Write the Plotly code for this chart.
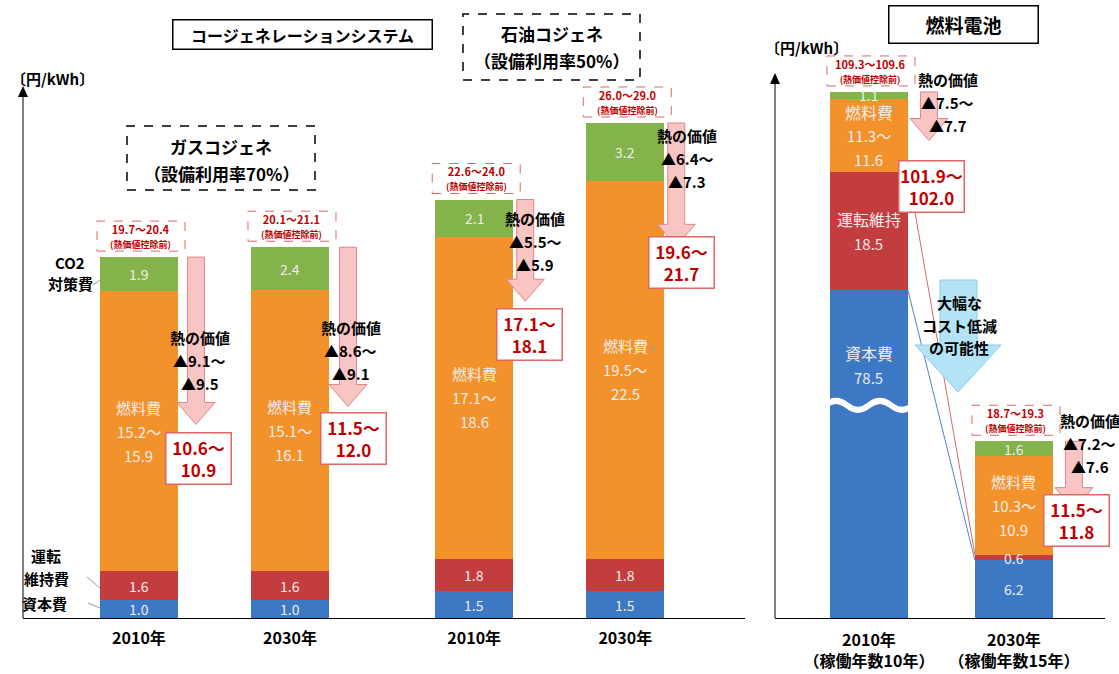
import plotly.graph_objects as go

W, H = 1119, 674
def px(x): return x / W
def py(y): return 1 - y / H

# ---------------- data: cogeneration (left panel) ----------------
cg_labels = ["2010年", "2030年", "2010年", "2030年"]
cg_capital = [1.0, 1.0, 1.5, 1.5]
cg_om = [1.6, 1.6, 1.8, 1.8]
cg_fuel_lo = [15.2, 15.1, 17.1, 19.5]
cg_fuel_hi = [15.9, 16.1, 18.6, 22.5]
cg_co2 = [1.9, 2.4, 2.1, 3.2]
cg_total_lo = [19.7, 20.1, 22.6, 26.0]
cg_total_hi = [20.4, 21.1, 24.0, 29.0]
cg_heat_lo = [9.1, 8.6, 5.5, 6.4]
cg_heat_hi = [9.5, 9.1, 5.9, 7.3]
cg_net_lo = [10.6, 11.5, 17.1, 19.6]
cg_net_hi = [10.9, 12.0, 18.1, 21.7]

# ---------------- data: fuel cell (right panel) ----------------
fc_labels = ["2010年<br>（稼働年数10年）", "2030年<br>（稼働年数15年）"]
fc_capital = [78.5, 6.2]
fc_om = [18.5, 0.6]
fc_fuel_lo = [11.3, 10.3]
fc_fuel_hi = [11.6, 10.9]
fc_co2 = [1.1, 1.6]
fc_total_lo = [109.3, 18.7]
fc_total_hi = [109.6, 19.3]
fc_heat_lo = [7.5, 7.2]
fc_heat_hi = [7.7, 7.6]
fc_net_lo = [101.9, 11.5]
fc_net_hi = [102.0, 11.8]

# ---------------- style / layout ----------------
FONT = "Noto Sans CJK JP, Noto Sans, sans-serif"
C_CAP, C_OM, C_FUEL, C_CO2 = '#3D78C5', '#C43D3E', '#F3922B', '#84B24B'
INBAR = '#EDEDED'
RED_TXT = '#C00000'
BOX_EDGE = '#E06666'
ARROW_FILL, ARROW_EDGE = '#F8C4C4', '#E48585'

cg_pos = [0, 1, 2.22, 3.22]
fc_pos = [0, 1]
BW_L, BW_R = 0.517, 0.538
Y_BOT, Y_TOP_L, Y_TOP_R = 618, 60, 45
L_RANGE = [0, 31]
FC_RANGES = [[27.2, 116.9], [0, 61.6]]
BREAK_AT = 60.5

def scale(rng, top):
    return (Y_BOT - top) / (rng[1] - rng[0])

def mid(a, b):
    return (a + b) / 2

cg_fuel = [mid(a, b) for a, b in zip(cg_fuel_lo, cg_fuel_hi)]
fc_fuel = [mid(a, b) for a, b in zip(fc_fuel_lo, fc_fuel_hi)]

fig = go.Figure()

# left bars
for vals, col in [(cg_capital, C_CAP), (cg_om, C_OM), (cg_fuel, C_FUEL), (cg_co2, C_CO2)]:
    fig.add_trace(go.Bar(x=cg_pos, y=vals, width=BW_L, marker=dict(color=col, line=dict(width=0)),
                         xaxis='x', yaxis='y', hoverinfo='skip'))
# right bars (2010 on broken axis y2, 2030 on y3)
for i, yax in enumerate(['y2', 'y3']):
    for vals, col in [(fc_capital, C_CAP), (fc_om, C_OM), (fc_fuel, C_FUEL), (fc_co2, C_CO2)]:
        fig.add_trace(go.Bar(x=[fc_pos[i]], y=[vals[i]], width=BW_R, marker=dict(color=col, line=dict(width=0)),
                             xaxis='x2', yaxis=yax, hoverinfo='skip'))

ann = []
shapes = []

def T(text, x, y, xref='paper', yref='paper', size=14, color='black', bold=False, xshift=0, yshift=0, **kw):
    if bold:
        text = f"<b>{text}</b>"
    d = dict(text=text, x=x, y=y, xref=xref, yref=yref, showarrow=False,
             font=dict(family=FONT, size=size, color=color), xshift=xshift, yshift=yshift,
             xanchor='center', yanchor='middle')
    d.update(kw)
    return d

# bar descriptors
bars = []
sL = scale(L_RANGE, Y_TOP_L)
heat_dy = [80, 80, 19, 13, -12, -21]
arrow_cx = [57, 58, 51, 51, 60, 60]
text_dx = [61, 61, 61, 62, 79, 76]
box_dx = [60, 64, 55, 56, 63, 63]
box_dy = [-34, -32, -33, -16, -46, -11]
for i in range(4):
    bars.append(dict(xr='x', yr='y', pos=cg_pos[i], cap=cg_capital[i], om=cg_om[i],
                     fuel=cg_fuel[i], flo=cg_fuel_lo[i], fhi=cg_fuel_hi[i], co2=cg_co2[i],
                     tlo=cg_total_lo[i], thi=cg_total_hi[i], hlo=cg_heat_lo[i], hhi=cg_heat_hi[i],
                     nlo=cg_net_lo[i], nhi=cg_net_hi[i], s=sL, k=i))
for i in range(2):
    bars.append(dict(xr='x2', yr=['y2', 'y3'][i], pos=fc_pos[i], cap=fc_capital[i], om=fc_om[i],
                     fuel=fc_fuel[i], flo=fc_fuel_lo[i], fhi=fc_fuel_hi[i], co2=fc_co2[i],
                     tlo=fc_total_lo[i], thi=fc_total_hi[i], hlo=fc_heat_lo[i], hhi=fc_heat_hi[i],
                     nlo=fc_net_lo[i], nhi=fc_net_hi[i], s=scale(FC_RANGES[i], Y_TOP_R), k=4 + i))

for b in bars:
    xr, yr, pos, k = b['xr'], b['yr'], b['pos'], b['k']
    total = b['cap'] + b['om'] + b['fuel'] + b['co2']
    net = mid(b['nlo'], b['nhi'])
    # dashed total box
    shapes.append(dict(type='rect', xref=xr, yref=yr, xsizemode='pixel', ysizemode='pixel',
                       xanchor=pos, yanchor=total, x0=-42, x1=46, y0=6, y1=36,
                       line=dict(color=BOX_EDGE, width=1, dash='dash'), fillcolor='rgba(0,0,0,0)'))
    ann.append(T(f"<b>{b['tlo']:.1f}～{b['thi']:.1f}</b><br><b><span style='font-size:9px'>(熱価値控除前)</span></b>",
                 pos, total, xr, yr, size=11, color=RED_TXT, xshift=2, yshift=21))
    # heat value arrow
    cx = arrow_cx[k]
    hh = 22 / b['s']
    neck = net + hh
    path = (f"M {cx-8.5},{total} L {cx+8.5},{total} L {cx+8.5},{neck} L {cx+19},{neck} "
            f"L {cx},{net} L {cx-19},{neck} L {cx-8.5},{neck} Z")
    shapes.append(dict(type='path', xref=xr, yref=yr, xsizemode='pixel', xanchor=pos, path=path,
                       fillcolor=ARROW_FILL, line=dict(color=ARROW_EDGE, width=1)))
    # heat text
    for j, t in enumerate(["熱の価値", f"▲{b['hlo']:.1f}～", f"▲{b['hhi']:.1f}"]):
        ann.append(T(t, pos, total, xr, yr, size=15, bold=True, xshift=text_dx[k],
                     yshift=-(heat_dy[k] + 23 * j)))
    # net box
    ann.append(T(f"<b>{b['nlo']:.1f}～<br>{b['nhi']:.1f}</b>", pos, net, xr, yr, size=17, color=RED_TXT,
                 xshift=box_dx[k], yshift=box_dy[k], width=62, height=48, bgcolor='white',
                 bordercolor=BOX_EDGE, borderwidth=1.5, borderpad=1))

    # in-bar labels
    c1 = b['cap']; c2 = c1 + b['om']; c3 = c2 + b['fuel']
    fl = [f"燃料費", f"{b['flo']:.1f}～", f"{b['fhi']:.1f}"]
    if k < 4 or k == 5:
        fs = 14
        ann.append(T(f"{b['cap']:.1f}", pos, c1 / 2, xr, yr, size=fs, color=INBAR))
        ann.append(T(f"{b['om']:.1f}", pos, mid(c1, c2), xr, yr, size=fs, color=INBAR))
        for j, t in enumerate(fl):
            ann.append(T(t, pos, mid(c2, c3), xr, yr, size=15, color=INBAR, yshift=24 - 24 * j))
        ann.append(T(f"{b['co2']:.1f}", pos, mid(c3, total), xr, yr, size=fs, color=INBAR))
    else:
        ann.append(T("資本費", pos, c1, xr, yr, size=16, color=INBAR, yshift=-63))
        ann.append(T(f"{b['cap']:.1f}", pos, c1, xr, yr, size=15, color=INBAR, yshift=-87))
        ann.append(T("運転維持", pos, mid(c1, c2), xr, yr, size=16, color=INBAR, yshift=12))
        ann.append(T(f"{b['om']:.1f}", pos, mid(c1, c2), xr, yr, size=15, color=INBAR, yshift=-12))
        for j, t in enumerate(fl):
            ann.append(T(t, pos, mid(c2, c3), xr, yr, size=16 if j == 0 else 15, color=INBAR, yshift=24 - 24 * j))
        ann.append(T(f"{b['co2']:.1f}", pos, mid(c3, total), xr, yr, size=14, color=INBAR))

# break wave on FC 2010 capital segment
shapes.append(dict(type='path', xref='x2', yref='y2', xsizemode='pixel', ysizemode='pixel',
                   xanchor=fc_pos[0], yanchor=BREAK_AT,
                   path="M -44,0 Q -33,9 -22,0 T 0,0 T 22,0 T 44,0",
                   line=dict(color='white', width=6)))

# connector lines between fuel cell bars
def ypaper(v, rng):
    pix = Y_BOT - (v - rng[0]) * scale(rng, Y_TOP_R)
    return py(pix)
for v0, v1, col in [(fc_capital[0] + fc_om[0], fc_capital[1] + fc_om[1], '#D46A6A'),
                    (fc_capital[0], fc_capital[1], '#4F84C8')]:
    shapes.append(dict(type='line', xref='x2', yref='paper', x0=fc_pos[0] + BW_R / 2, x1=fc_pos[1] - BW_R / 2,
                       y0=ypaper(v0, FC_RANGES[0]), y1=ypaper(v1, FC_RANGES[1]),
                       line=dict(color=col, width=1)))

# big blue arrow
bp = [(940, 280), (977, 280), (977, 345), (1001, 345), (958, 392), (915, 345), (940, 345)]
shapes.append(dict(type='path', xref='paper', yref='paper', layer='above',
                   path="M " + " L ".join(f"{px(x)},{py(y)}" for x, y in bp) + " Z",
                   fillcolor='#B5E3F6', line=dict(color='#8CCBE8', width=1)))
for t, y in [("大幅な", 303), ("コスト低減", 326), ("の可能性", 348)]:
    ann.append(T(t, px(959), py(y), size=15, bold=True))

# y axis arrows
for x, ytop in [(23, 86), (775, 73)]:
    shapes.append(dict(type='line', xref='paper', yref='paper', x0=px(x), x1=px(x), y0=py(Y_BOT), y1=py(ytop + 8),
                       line=dict(color='#555555', width=1.5)))
    shapes.append(dict(type='path', xref='paper', yref='paper',
                       path=f"M {px(x)},{py(ytop)} L {px(x-5)},{py(ytop+11)} L {px(x+5)},{py(ytop+11)} Z",
                       fillcolor='black', line=dict(width=0)))
ann.append(T("〔円/kWh〕", px(52), py(78), size=15, bold=True))
ann.append(T("〔円/kWh〕", px(806), py(47), size=15, bold=True))

# left side legend labels
for t, x, y in [("CO2", 70, 262), ("対策費", 70, 283), ("運転", 46, 555), ("維持費", 46, 578), ("資本費", 44, 603)]:
    ann.append(T(t, px(x), py(y), size=15, bold=True))
for x0, y0, x1, y1 in [(93, 285, 100, 280), (87, 577, 100, 588), (88, 603, 100, 608)]:
    shapes.append(dict(type='line', xref='paper', yref='paper', x0=px(x0), y0=py(y0), x1=px(x1), y1=py(y1),
                       line=dict(color='#9A9A9A', width=1)))

# title boxes
ann.append(T("コージェネレーションシステム", px(302), py(35), size=16, bold=True,
             width=256, height=26, bordercolor='black', borderwidth=1.5, bgcolor='white'))
ann.append(T("燃料電池", px(963), py(24), size=19, bold=True,
             width=146, height=34, bordercolor='black', borderwidth=1.5, bgcolor='white'))
for (x0, y0, x1, y1), lines in [((463, 14, 640, 80), ["石油コジェネ", "（設備利用率50%）"]),
                                ((127, 126, 315, 190), ["ガスコジェネ", "（設備利用率70%）"])]:
    shapes.append(dict(type='rect', xref='paper', yref='paper', x0=px(x0), x1=px(x1), y0=py(y1), y1=py(y0),
                       line=dict(color='black', width=1.5, dash='dash')))
    cxp = (x0 + x1) / 2
    ann.append(T(lines[0], px(cxp), py(y0 + 20), size=17, bold=True))
    ann.append(T(lines[1], px(cxp), py(y0 + 47), size=17, bold=True))

fig.update_layout(
    width=W, height=H, margin=dict(l=0, r=0, t=0, b=0),
    paper_bgcolor='white', plot_bgcolor='rgba(0,0,0,0)',
    barmode='stack', showlegend=False, bargap=0,
    font=dict(family=FONT, color='black'),
    annotations=ann, shapes=shapes,
    xaxis=dict(domain=[px(23), px(745)], range=[-0.768, 4.013], tickvals=cg_pos,
               ticktext=[f"<b>{t}</b>" for t in cg_labels], tickfont=dict(size=16, family=FONT, color='black'),
               showline=True, linecolor='black', linewidth=1, ticks='', showgrid=False, zeroline=False,
               anchor='y', ticklabelstandoff=6),
    yaxis=dict(domain=[py(Y_BOT), py(Y_TOP_L)], range=L_RANGE, visible=False, anchor='x'),
    xaxis2=dict(domain=[px(775), px(1105)], range=[-0.648, 1.628], tickvals=fc_pos,
                ticktext=[f"<b>{t}</b>" for t in fc_labels], tickfont=dict(size=16, family=FONT, color='black'),
                showline=True, linecolor='black', linewidth=1, ticks='', showgrid=False, zeroline=False,
                anchor='y2', ticklabelstandoff=8),
    yaxis2=dict(domain=[py(Y_BOT), py(Y_TOP_R)], range=FC_RANGES[0], visible=False, anchor='x2'),
    yaxis3=dict(range=FC_RANGES[1], visible=False, anchor='x2', overlaying='y2'),
)

fig.write_html("out.html", config={'displayModeBar': False},
               post_script="document.body.style.margin='0';document.body.style.overflow='hidden';")
